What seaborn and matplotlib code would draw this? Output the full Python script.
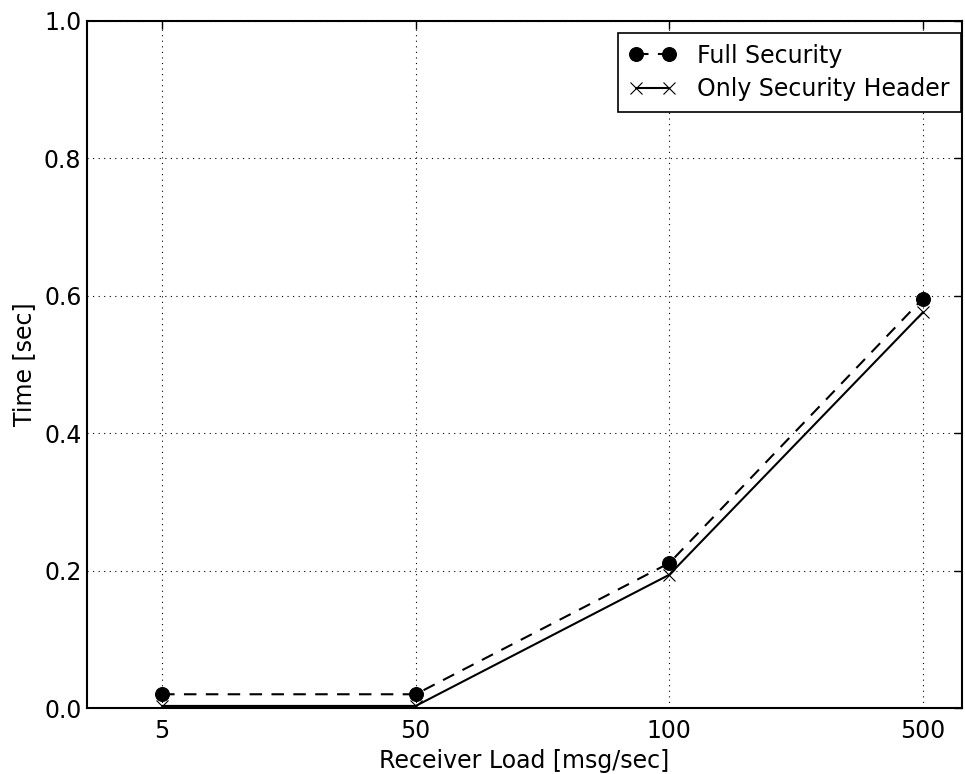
import matplotlib
matplotlib.use("Agg")
import matplotlib.pyplot as plt
import seaborn as sns
import pandas as pd

loads = ["5", "50", "100", "500"]
full_security = [0.020, 0.020, 0.211, 0.596]
only_header = [0.003, 0.003, 0.194, 0.576]
y_ticks = [0.0, 0.2, 0.4, 0.6, 0.8, 1.0]

sns.set_style("white")
plt.rcParams['font.family'] = ['DejaVu Sans']
plt.rcParams['xtick.direction'] = 'in'
plt.rcParams['ytick.direction'] = 'in'
plt.rcParams['text.color'] = 'black'
plt.rcParams['axes.labelcolor'] = 'black'
plt.rcParams['xtick.color'] = 'black'
plt.rcParams['ytick.color'] = 'black'

pos = list(range(len(loads)))
df = pd.DataFrame({
    "pos": pos * 2,
    "time": full_security + only_header,
    "series": ["Full Security"] * 4 + ["Only Security Header"] * 4,
})

fig = plt.figure(figsize=(9.65, 7.74), dpi=100)
ax = fig.add_axes([87/965, 1 - 708/774, (962-87)/965, (708-21)/774])

sns.lineplot(data=df[df.series == "Full Security"], x="pos", y="time", ax=ax,
             color="black", marker="o", markersize=10, linewidth=1.5,
             markeredgecolor="black", label="Full Security")
ax.lines[-1].set_dashes((6, 4.5))
sns.lineplot(data=df[df.series == "Only Security Header"], x="pos", y="time", ax=ax,
             color="black", marker="x", markersize=9, linewidth=1.5,
             markeredgewidth=0.8, markeredgecolor="black", label="Only Security Header")

ax.set_xlim(-0.296, 3.154)
ax.set_ylim(0, 1.0)
ax.set_xticks(pos)
ax.set_xticklabels(loads)
ax.set_yticks(y_ticks)
ax.set_yticklabels([f"{v:.1f}" for v in y_ticks])
ax.tick_params(labelsize=17, length=6, width=1, color="black",
               top=True, right=True)
ax.tick_params(axis="x", pad=8)
ax.tick_params(axis="y", pad=4)
ax.grid(True, color="black", linestyle=(0, (1, 4)), linewidth=0.8)
for s in ax.spines.values():
    s.set_color("black")
    s.set_linewidth(1.5)
ax.set_xlabel("Receiver Load [msg/sec]", fontsize=17, labelpad=4)
ax.set_ylabel("Time [sec]", fontsize=17, labelpad=6)

leg = ax.legend(loc="upper right", bbox_to_anchor=(0.9983, 0.9825),
                fontsize=17, frameon=True, fancybox=False, numpoints=2,
                handlelength=2.0, borderaxespad=0, borderpad=0.45,
                labelspacing=0.4, handletextpad=0.9)
leg.get_frame().set_edgecolor("black")
leg.get_frame().set_linewidth(1.2)
leg.get_frame().set_alpha(1)

fig.savefig("out.png", dpi=100, facecolor="white")
